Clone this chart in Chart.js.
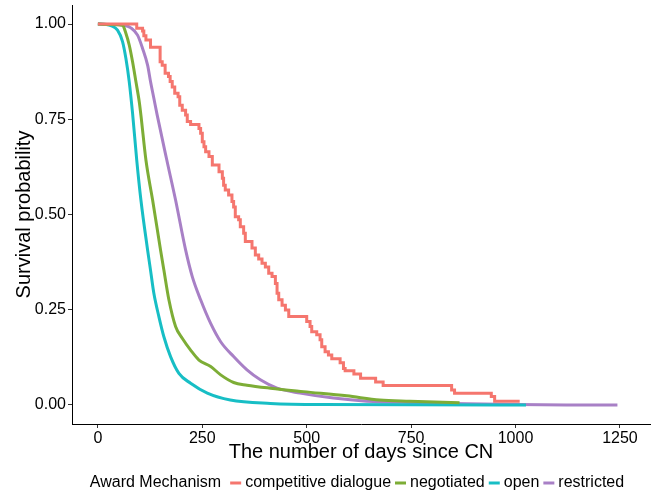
<!DOCTYPE html>
<html>
<head>
<meta charset="utf-8">
<script src="https://cdn.jsdelivr.net/npm/chart.js@4/dist/chart.umd.min.js"></script>
<style>
  html, body { margin: 0; padding: 0; background: #fff; }
  #wrap { position: relative; width: 656px; height: 493px; }
</style>
</head>
<body>
<div id="wrap"><canvas id="km"></canvas></div>
<script>
const groups = ['competitive dialogue', 'negotiated', 'open', 'restricted'];
const colors = ['#F5766E', '#7DAD36', '#17BEC5', '#A880C6'];
const legendTitle = 'Award Mechanism';
const xTicks = [0, 250, 500, 750, 1000, 1250];
const yTicks = [0, 0.25, 0.5, 0.75, 1];

// competitive dialogue (few events, step curve)
const dialogueDays = [0, 93, 107, 110, 115, 126, 149, 154, 161, 169, 173, 178, 184, 192, 196, 202, 210, 214,
  222, 242, 246, 250, 254, 258, 266, 274, 290, 298, 301, 305, 313, 321, 325, 329, 337, 341,
  349, 353, 369, 377, 385, 393, 401, 409, 417, 425, 429, 433, 441, 449, 457, 500, 508, 512,
  524, 532, 536, 544, 552, 560, 580, 588, 592, 613, 629, 665, 683, 847, 854, 942, 950, 1010];
const dialogueSurv = [1, 0.989, 0.982, 0.969, 0.958, 0.939, 0.901, 0.892, 0.871, 0.862, 0.849, 0.835, 0.818, 0.809, 0.787, 0.774, 0.761, 0.744,
  0.736, 0.726, 0.713, 0.691, 0.678, 0.665, 0.652, 0.630, 0.612, 0.595, 0.577, 0.564, 0.551, 0.534, 0.520, 0.494, 0.486, 0.468,
  0.451, 0.429, 0.412, 0.394, 0.383, 0.372, 0.362, 0.346, 0.337, 0.319, 0.293, 0.276, 0.262, 0.249, 0.232, 0.219, 0.206, 0.192,
  0.184, 0.171, 0.153, 0.140, 0.131, 0.121, 0.111, 0.096, 0.090, 0.081, 0.070, 0.060, 0.051, 0.039, 0.031, 0.022, 0.010, 0.010];

const negotiatedDays = [0, 31, 59, 67, 75, 83, 91, 99, 103, 115, 131, 150, 158, 170, 186, 202, 222, 242, 270, 294, 325, 357, 413, 492, 596, 675, 747, 866];
const negotiatedSurv = [1, 0.999, 0.997, 0.976, 0.945, 0.901, 0.849, 0.796, 0.761, 0.643, 0.538, 0.407, 0.354, 0.276, 0.206, 0.175, 0.144, 0.118, 0.101, 0.079, 0.059, 0.052, 0.044, 0.035, 0.024, 0.013, 0.010, 0.006];

const openDays = [0, 19, 31, 47, 59, 67, 75, 83, 93, 103, 119, 126, 134, 146, 158, 174, 194, 222, 262, 317, 413, 532, 1025];
const openSurv = [1, 0.999, 0.996, 0.984, 0.954, 0.910, 0.849, 0.766, 0.643, 0.538, 0.407, 0.354, 0.293, 0.232, 0.179, 0.127, 0.083, 0.057, 0.031, 0.013, 0.004, 0.001, 0.0];

const restrictedDays = [0, 31, 63, 79, 95, 107, 119, 126, 134, 142, 165, 186, 210, 226, 246, 270, 294, 325, 357, 389, 429, 484, 564, 644, 763, 882, 1002, 1121, 1244];
const restrictedSurv = [1, 0.999, 0.997, 0.990, 0.971, 0.936, 0.892, 0.849, 0.805, 0.761, 0.643, 0.538, 0.407, 0.337, 0.276, 0.214, 0.166, 0.127, 0.092, 0.066, 0.044, 0.031, 0.018, 0.010, 0.006, 0.003, 0.001, 0.0, 0.0];

const toPoints = (xs, ys) => xs.map((x, i) => ({ x, y: ys[i] }));
const FONT = 'Liberation Sans, Arial, Helvetica, sans-serif';

const series = [
  { days: dialogueDays, surv: dialogueSurv, stepped: true },
  { days: negotiatedDays, surv: negotiatedSurv, stepped: false },
  { days: openDays, surv: openSurv, stepped: false },
  { days: restrictedDays, surv: restrictedSurv, stepped: false }
];

const legendPlugin = {
  id: 'ggLegend',
  afterDraw(chart) {
    const ctx = chart.ctx;
    ctx.save();
    ctx.font = '16px ' + FONT;
    ctx.textBaseline = 'middle';
    ctx.fillStyle = '#000';
    const y = 483;
    const widths = groups.map(g => ctx.measureText(g).width);
    const titleW = ctx.measureText(legendTitle).width;
    let total = titleW + 9;
    widths.forEach(w => { total += 11 + 4 + w + 4; });
    total -= 4;
    let x = 357 - total / 2;
    ctx.fillText(legendTitle, x, y);
    x += titleW + 9;
    groups.forEach((g, i) => {
      ctx.strokeStyle = colors[i];
      ctx.lineWidth = 3;
      ctx.beginPath();
      ctx.moveTo(x, y);
      ctx.lineTo(x + 11, y);
      ctx.stroke();
      x += 15;
      ctx.fillText(g, x, y);
      x += widths[i] + 4;
    });
    ctx.restore();
  }
};

new Chart(document.getElementById('km'), {
  type: 'line',
  data: {
    datasets: series.map((s, i) => ({
      label: groups[i],
      data: toPoints(s.days, s.surv),
      borderColor: colors[i],
      backgroundColor: colors[i],
      borderWidth: 3,
      pointRadius: 0,
      stepped: s.stepped ? 'before' : false,
      cubicInterpolationMode: 'monotone',
      fill: false
    }))
  },
  options: {
    responsive: true,
    maintainAspectRatio: false,
    animation: false,
    layout: { padding: { top: 5, right: 6, left: 0, bottom: 29 } },
    plugins: { legend: { display: false }, tooltip: { enabled: false } },
    scales: {
      x: {
        type: 'linear',
        min: -62,
        max: 1322,
        afterBuildTicks: scale => { scale.ticks = xTicks.map(v => ({ value: v })); },
        afterFit: scale => { scale.height = 40; scale.paddingLeft = 0; scale.paddingRight = 0; },
        grid: { display: true, drawOnChartArea: false, drawTicks: true, tickLength: 4, color: '#333' },
        border: { display: true, color: '#000', width: 1 },
        ticks: { color: '#000', padding: 1, maxRotation: 0, font: { size: 16, family: FONT }, callback: v => String(v) },
        title: { display: true, text: 'The number of days since CN', color: '#000', padding: 0, font: { size: 20, family: FONT } }
      },
      y: {
        min: -0.05,
        max: 1.05,
        afterBuildTicks: scale => { scale.ticks = yTicks.map(v => ({ value: v })); },
        afterFit: scale => { scale.width = 72; scale.paddingTop = 0; scale.paddingBottom = 0; },
        grid: { display: true, drawOnChartArea: false, drawTicks: true, tickLength: 4, color: '#333' },
        border: { display: true, color: '#000', width: 1 },
        ticks: { color: '#000', padding: 2, font: { size: 16, family: FONT }, callback: v => v.toFixed(2) },
        title: { display: true, text: 'Survival probability', color: '#000', padding: { top: 12, bottom: 0 }, font: { size: 20, family: FONT } }
      }
    }
  },
  plugins: [legendPlugin]
});
</script>
</body>
</html>
